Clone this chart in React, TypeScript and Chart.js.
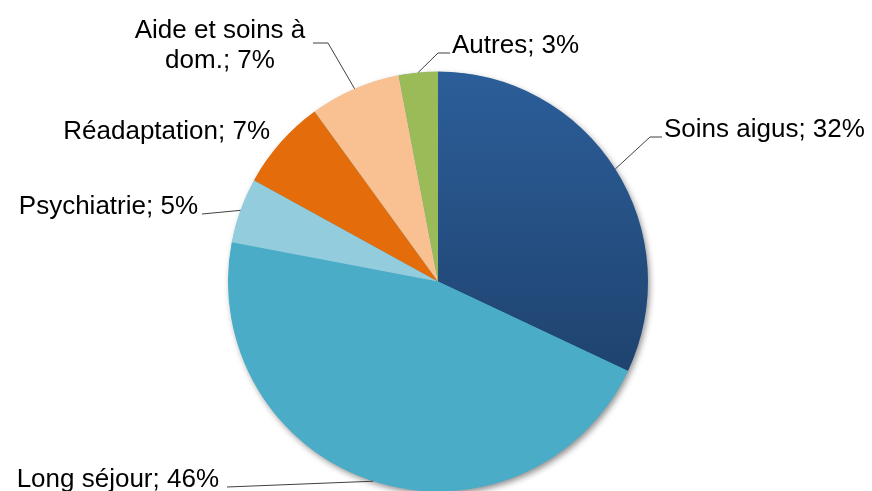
import React, { useEffect, useRef } from "react";
import { Chart, registerables } from "chart.js";

Chart.register(...registerables);

// ---- data ----
const categories = [
  "Soins aigus",
  "Long séjour",
  "Psychiatrie",
  "Réadaptation",
  "Aide et soins à dom.",
  "Autres",
];
const shares = [32, 46, 5, 7, 7, 3];
const labelLines = [
  ["Soins aigus; 32%"],
  ["Long séjour; 46%"],
  ["Psychiatrie; 5%"],
  ["Réadaptation; 7%"],
  ["Aide et soins à", "dom.; 7%"],
  ["Autres; 3%"],
];

// ---- styles / layout ----
const colors = ["#2B5C96", "#4AACC6", "#93CDDD", "#E46C0A", "#F9C091", "#9BBB59"];
const FONT = '26px "Liberation Sans", Arial, sans-serif';
type LabelLayout = {
  x: number;
  y: number;
  align: CanvasTextAlign;
  line: boolean;
  elbow?: [number, number];
  end?: [number, number];
};
const labelLayout: LabelLayout[] = [
  { x: 664, y: 137, align: "left", line: true, elbow: [650, 137], end: [662, 137] },
  { x: 219, y: 487, align: "right", line: true, end: [227, 487] },
  { x: 198, y: 214, align: "right", line: true, end: [202, 214] },
  { x: 270, y: 139, align: "right", line: false },
  { x: 220, y: 38, align: "center", line: true, elbow: [328, 43], end: [313, 43] },
  { x: 452, y: 53, align: "left", line: true, elbow: [438, 53], end: [450, 53] },
];

const shadowPlugin = {
  id: "pieShadow",
  beforeDatasetsDraw(chart: any) {
    const meta = chart.getDatasetMeta(0);
    const arc = meta.data[0];
    if (!arc) return;
    const { x, y, outerRadius } = arc.getProps(["x", "y", "outerRadius"], true);
    const ctx = chart.ctx;
    ctx.save();
    ctx.shadowColor = "rgba(0,0,0,0.45)";
    ctx.shadowBlur = 6;
    ctx.shadowOffsetX = 2;
    ctx.shadowOffsetY = 3;
    ctx.fillStyle = "#4AACC6";
    ctx.beginPath();
    ctx.arc(x, y, outerRadius - 0.5, 0, Math.PI * 2);
    ctx.fill();
    ctx.restore();
  },
};

const labelPlugin = {
  id: "pieLabels",
  afterDatasetsDraw(chart: any) {
    const ctx = chart.ctx;
    const meta = chart.getDatasetMeta(0);
    ctx.save();
    ctx.font = FONT;
    ctx.fillStyle = "#000000";
    ctx.textBaseline = "alphabetic";
    meta.data.forEach((arc: any, i: number) => {
      const p = arc.getProps(["x", "y", "startAngle", "endAngle", "outerRadius"], true);
      const mid = (p.startAngle + p.endAngle) / 2;
      const sx = p.x + Math.cos(mid) * p.outerRadius;
      const sy = p.y + Math.sin(mid) * p.outerRadius;
      const L = labelLayout[i];
      if (L.line && L.end) {
        ctx.strokeStyle = "#404040";
        ctx.lineWidth = 1;
        ctx.beginPath();
        ctx.moveTo(sx, sy);
        if (L.elbow) ctx.lineTo(L.elbow[0], L.elbow[1]);
        ctx.lineTo(L.end[0], L.end[1]);
        ctx.stroke();
      }
      ctx.textAlign = L.align;
      labelLines[i].forEach((t, k) => {
        ctx.fillText(t, L.x, L.y + k * 30);
      });
    });
    ctx.restore();
  },
};

export default function App() {
  const ref = useRef<HTMLCanvasElement | null>(null);
  useEffect(() => {
    document.body.style.margin = "0";
    const canvas = ref.current!;
    const chart = new Chart(canvas, {
      type: "pie",
      data: {
        labels: categories,
        datasets: [
          {
            data: shares,
            backgroundColor: (c: any) => {
              const i = c.dataIndex;
              if (i === 0 && c.chart.chartArea) {
                const a = c.chart.chartArea;
                const g = c.chart.ctx.createLinearGradient(0, a.top, 0, a.top + 300);
                g.addColorStop(0, "#2C5E99");
                g.addColorStop(1, "#1F436F");
                return g;
              }
              return colors[i];
            },
            borderWidth: 0,
          },
        ],
      },
      options: {
        responsive: false,
        animation: false,
        radius: 210,
        layout: { padding: { top: 72, bottom: 0, left: 4, right: 0 } },
        plugins: {
          legend: { display: false },
          tooltip: { enabled: false },
          title: { display: false },
        },
      },
      plugins: [shadowPlugin, labelPlugin],
    });
    return () => chart.destroy();
  }, []);
  return (
    <div style={{ position: "fixed", left: 0, top: 0, width: 872, height: 491, background: "#fff" }}>
      <canvas ref={ref} width={872} height={491} style={{ display: "block" }} />
    </div>
  );
}
